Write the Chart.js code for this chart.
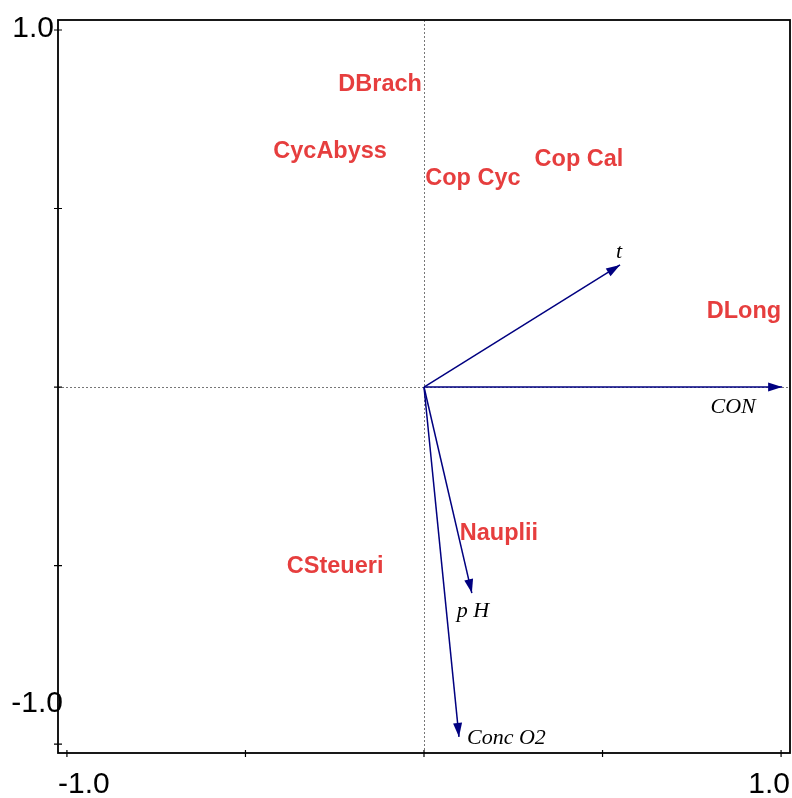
<!DOCTYPE html>
<html>
<head>
<meta charset="utf-8">
<script src="https://cdn.jsdelivr.net/npm/chart.js@4.4.1/dist/chart.umd.min.js"></script>
<style>
  html, body { margin: 0; padding: 0; background: #fff; }
  #wrap { width: 792px; height: 798px; }
</style>
</head>
<body>
<div id="wrap"><canvas id="biplot" width="792" height="798"></canvas></div>
<script>
// species scores (label centres)
const speciesNames = ['DBrach', 'CycAbyss', 'Cop Cyc', 'Cop Cal', 'DLong', 'Nauplii', 'CSteueri'];
const speciesX = [-0.123, -0.263, 0.137, 0.434, 0.896, 0.210, -0.249];
const speciesY = [0.854, 0.664, 0.591, 0.643, 0.216, -0.406, -0.496];

// environmental variable arrows (tips)
const envNames = ['t', 'CON', 'p H', 'Conc O2'];
const envX = [0.549, 1.003, 0.134, 0.098];
const envY = [0.342, 0.000, -0.577, -0.980];

const tickValues = [-1, -0.5, 0, 0.5, 1];
const tickLabels = ['-1.0', '', '', '', '1.0'];

const ARROW = '#000080';
const RED = '#e63e3e';

// one line dataset per arrow, from the origin to the tip
const arrowSets = envNames.map((n, i) => ({
    type: 'line',
    label: n,
    data: [{x: 0, y: 0}, {x: envX[i], y: envY[i]}],
    borderColor: ARROW,
    borderWidth: 1.5,
    pointRadius: 0,
    fill: false,
    tension: 0
}));

const speciesSet = {
    type: 'scatter',
    label: 'species',
    data: speciesNames.map((n, i) => ({x: speciesX[i], y: speciesY[i]})),
    pointRadius: 0
};

// frame, zero lines and ticks
const framePlugin = {
    id: 'frame',
    beforeDatasetsDraw(chart) {
        const {ctx, chartArea: a, scales: {x, y}} = chart;
        const x0 = x.getPixelForValue(0), y0 = y.getPixelForValue(0);
        ctx.save();
        ctx.strokeStyle = '#777';
        ctx.lineWidth = 1;
        ctx.setLineDash([2, 2]);
        ctx.beginPath();
        ctx.moveTo(Math.round(x0) + 0.5, a.top);
        ctx.lineTo(Math.round(x0) + 0.5, a.bottom);
        ctx.moveTo(a.left, Math.round(y0) + 0.5);
        ctx.lineTo(a.right, Math.round(y0) + 0.5);
        ctx.stroke();
        ctx.setLineDash([]);

        ctx.strokeStyle = '#000';
        ctx.lineWidth = 1.8;
        ctx.strokeRect(a.left, a.top, a.right - a.left, a.bottom - a.top);

        ctx.lineWidth = 1.2;
        ctx.beginPath();
        tickValues.forEach(v => {
            const px = x.getPixelForValue(v);
            ctx.moveTo(px, a.bottom - 3);
            ctx.lineTo(px, a.bottom + 4);
            const py = y.getPixelForValue(v);
            ctx.moveTo(a.left - 4, py);
            ctx.lineTo(a.left + 4, py);
        });
        ctx.stroke();

        // end labels only, placed like the original
        ctx.fillStyle = '#000';
        ctx.font = '30px "Liberation Sans", Arial, sans-serif';
        ctx.textBaseline = 'alphabetic';
        const lastI = tickValues.length - 1;
        // y axis
        ctx.textAlign = 'right';
        ctx.fillText(tickLabels[lastI], a.left - 4, y.getPixelForValue(tickValues[lastI]) + 7);
        ctx.fillText(tickLabels[0], a.left + 5, y.getPixelForValue(tickValues[0]) - 32);
        // x axis
        ctx.textAlign = 'center';
        ctx.fillText(tickLabels[0], x.getPixelForValue(tickValues[0]) + 17, a.bottom + 40);
        ctx.fillText(tickLabels[lastI], x.getPixelForValue(tickValues[lastI]) - 12, a.bottom + 40);
        ctx.restore();
    }
};

// label offsets from each arrow tip: [dx, dy, align]
const envLabelPos = [[-1, -7, 'center'], [-49, 26, 'center'], [1, 24, 'center'], [8, 7, 'left']];

const markPlugin = {
    id: 'marks',
    afterDatasetsDraw(chart) {
        const ctx = chart.ctx;
        ctx.save();
        chart.data.datasets.forEach((ds, di) => {
            const pts = chart.getDatasetMeta(di).data;
            if (ds.type === 'line') {
                const p0 = pts[0], p1 = pts[1];
                const ang = Math.atan2(p1.y - p0.y, p1.x - p0.x);
                const len = 14, half = 4.5;
                ctx.fillStyle = ARROW;
                ctx.beginPath();
                ctx.moveTo(p1.x, p1.y);
                ctx.lineTo(p1.x - len * Math.cos(ang) + half * Math.sin(ang),
                           p1.y - len * Math.sin(ang) - half * Math.cos(ang));
                ctx.lineTo(p1.x - len * Math.cos(ang) - half * Math.sin(ang),
                           p1.y - len * Math.sin(ang) + half * Math.cos(ang));
                ctx.closePath();
                ctx.fill();

                const lp = envLabelPos[di];
                ctx.fillStyle = '#000';
                ctx.font = 'italic 22px "Liberation Serif", "Times New Roman", serif';
                ctx.textAlign = lp[2];
                ctx.textBaseline = 'alphabetic';
                ctx.fillText(ds.label, p1.x + lp[0], p1.y + lp[1]);
            } else {
                ctx.fillStyle = RED;
                ctx.font = 'bold 23.5px "Liberation Sans", Arial, sans-serif';
                ctx.textAlign = 'center';
                ctx.textBaseline = 'alphabetic';
                pts.forEach((p, i) => {
                    ctx.fillText(speciesNames[i], p.x, p.y + 8.5);
                });
            }
        });
        ctx.restore();
    }
};

new Chart(document.getElementById('biplot').getContext('2d'), {
    type: 'scatter',
    data: { datasets: [...arrowSets, speciesSet] },
    options: {
        responsive: false,
        animation: false,
        layout: { padding: { left: 58, top: 20, right: 2, bottom: 45 } },
        plugins: { legend: { display: false }, tooltip: { enabled: false } },
        scales: {
            x: { type: 'linear', min: -1.025, max: 1.025, display: false },
            y: { type: 'linear', min: -1.025, max: 1.028, display: false }
        }
    },
    plugins: [framePlugin, markPlugin]
});
</script>
</body>
</html>
